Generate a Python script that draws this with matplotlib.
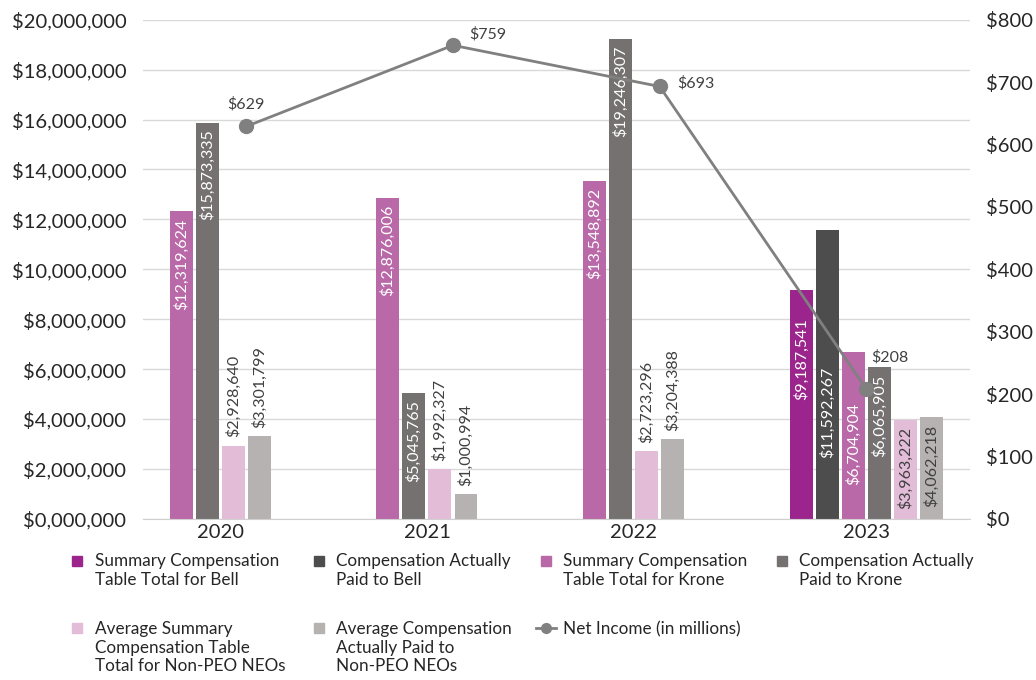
import numpy as np
import matplotlib
matplotlib.use('Agg')
import matplotlib.pyplot as plt
from matplotlib.lines import Line2D
from matplotlib.legend_handler import HandlerLine2D
from matplotlib.ticker import FuncFormatter, MultipleLocator

plt.rcParams['font.family'] = ['Lato', 'DejaVu Sans']

# ---- data ----
years = ['2020', '2021', '2022', '2023']
bell_sct = [np.nan, np.nan, np.nan, 9187541]
bell_cap = [np.nan, np.nan, np.nan, 11592267]
krone_sct = [12319624, 12876006, 13548892, 6704904]
krone_cap = [15873335, 5045765, 19246307, 6065905]
neo_sct = [2928640, 1992327, 2723296, 3963222]
neo_cap = [3301799, 1000994, 3204388, 4062218]
net_income = [629, 759, 693, 208]

series_names = ['Summary Compensation\nTable Total for Bell',
                'Compensation Actually\nPaid to Bell',
                'Summary Compensation\nTable Total for Krone',
                'Compensation Actually\nPaid to Krone',
                'Average Summary\nCompensation Table\nTotal for Non-PEO NEOs',
                'Average Compensation\nActually Paid to\nNon-PEO NEOs']
line_name = 'Net Income (in millions)'

series = [bell_sct, bell_cap, krone_sct, krone_cap, neo_sct, neo_cap]
colors = ['#9b258d', '#4d4d4d', '#b968a8', '#757171', '#e3bcd8', '#b6b2b2']
label_colors = ['white', 'white', 'white', 'white', '#404040', '#404040']

# extra downward shift (points) for a few inside labels, kept clear of the line
label_drop = {(3, 0): 16, (3, 1): 94, (3, 2): 32}
# offsets (points) for net income labels
ni_offsets = [(0, 16), (25, 8), (26, 2), (17, 23)]


class TopHandler(HandlerLine2D):
    # put the legend key next to the first line of a multi-line label
    def __init__(self, nlines, **kw):
        super().__init__(**kw)
        self.nlines = nlines

    def create_artists(self, legend, orig_handle, xdescent, ydescent, width, height,
                       fontsize, trans):
        arts = super().create_artists(legend, orig_handle, xdescent, ydescent, width,
                                      height, fontsize, trans)
        shift = (self.nlines - 1) * 1.2 * fontsize / 2
        for a in arts:
            a.set_ydata(np.asarray(a.get_ydata()) + shift)
        return arts


fig = plt.figure(figsize=(10.36, 6.8), dpi=100)
ax = fig.add_axes([0.138, 0.237, 0.798, 0.734])
ax2 = ax.twinx()

pitch = 0.126
width = 0.111
x = np.arange(len(years))
tick_pos = []
for i in range(len(years)):
    present = [k for k in range(len(series)) if not np.isnan(series[k][i])]
    offs = []
    for slot, k in enumerate(present):
        xp = x[i] + (slot - 2.5) * pitch
        offs.append(xp)
        v = series[k][i]
        ax.bar(xp, v, width=width, color=colors[k], zorder=2)
        txt = '${:,.0f}'.format(v)
        if v >= 3.9e6:
            ax.annotate(txt, (xp, v), xytext=(0, -5 - label_drop.get((i, k), 0)),
                        textcoords='offset points', rotation=90, ha='center', va='top',
                        color=label_colors[k], fontsize=11.5, zorder=3)
        else:
            ax.annotate(txt, (xp, v), xytext=(0, 6), textcoords='offset points',
                        rotation=90, ha='center', va='bottom', color='#404040',
                        fontsize=11.5, zorder=3)
    tick_pos.append(np.mean(offs))

ax.set_xlim(-0.5, len(years) - 0.5)
ax.set_ylim(0, 20000000)
ax.yaxis.set_major_locator(MultipleLocator(2000000))
ax.yaxis.set_major_formatter(FuncFormatter(lambda v, p: '$' + format(int(v), '09,')))
ax.set_xticks(tick_pos)
ax.set_xticklabels(years)
ax.grid(axis='y', color='#d9d9d9', linewidth=1, zorder=0)
ax.set_axisbelow(True)
for s in ['top', 'right', 'left']:
    ax.spines[s].set_visible(False)
ax.spines['bottom'].set_color('#d0d0d0')
ax.tick_params(axis='both', length=0, labelsize=14.5, colors='#262626')
ax.tick_params(axis='x', pad=4)
ax.tick_params(axis='y', pad=12)

ax2.plot(x, net_income, color='#808080', linewidth=2, marker='o', markersize=10, zorder=5)
for i, v in enumerate(net_income):
    ax2.annotate('${}'.format(v), (x[i], v), xytext=ni_offsets[i], textcoords='offset points',
                 ha='center', va='center', color='#404040', fontsize=11.5)
ax2.set_ylim(0, 800)
ax2.yaxis.set_major_locator(MultipleLocator(100))
ax2.yaxis.set_major_formatter(FuncFormatter(lambda v, p: '${:.0f}'.format(v)))
for s in ['top', 'right', 'left', 'bottom']:
    ax2.spines[s].set_visible(False)
ax2.tick_params(axis='y', length=0, labelsize=14.5, colors='#262626', pad=12)

# legend, row-major order in 4 columns
handles = [Line2D([], [], linestyle='none', marker='s', markersize=7, color=c) for c in colors]
handles.append(Line2D([], [], color='#808080', linewidth=2, marker='o', markersize=7))
labels = series_names + [line_name]
hmap = {h: TopHandler(l.count('\n') + 1) for h, l in zip(handles, labels)}
order = [0, 4, 1, 5, 2, 6, 3]
fig.legend([handles[j] for j in order], [labels[j] for j in order], loc='upper left',
           bbox_to_anchor=(0.05, 0.209), ncol=4, frameon=False, fontsize=12.3,
           handlelength=1.2, handletextpad=0.4, columnspacing=1.4, labelspacing=1.95,
           labelcolor='#262626', handler_map=hmap)

fig.savefig('out.png', dpi=100)
